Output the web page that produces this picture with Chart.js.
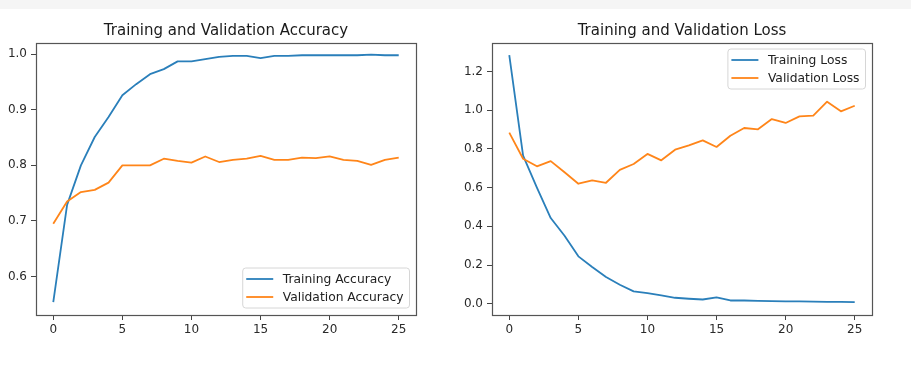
<!DOCTYPE html>
<html>
<head>
<meta charset="utf-8">
<script src="https://cdn.jsdelivr.net/npm/chart.js@4.4.1/dist/chart.umd.min.js"></script>
<style>
  html, body { margin: 0; padding: 0; background: #fff; }
  body { width: 911px; height: 367px; position: relative; overflow: hidden; }
  #band { position: absolute; left: 0; top: 0; width: 911px; height: 9px; background: #f5f5f5; }
  canvas { position: absolute; top: 0; }
  #c1 { left: 0; }
  #c2 { left: 456px; }
</style>
</head>
<body>
<div id="band"></div>
<canvas id="c1" width="455" height="367"></canvas>
<canvas id="c2" width="455" height="367"></canvas>
<script>
const epochs = [0,1,2,3,4,5,6,7,8,9,10,11,12,13,14,15,16,17,18,19,20,21,22,23,24,25];
const trainAcc = [0.554,0.729,0.800,0.851,0.887,0.926,0.946,0.964,0.973,0.987,0.987,0.991,0.995,0.997,0.997,0.993,0.997,0.997,0.998,0.998,0.998,0.998,0.998,0.999,0.998,0.998];
const valAcc   = [0.695,0.735,0.752,0.756,0.769,0.800,0.800,0.800,0.812,0.808,0.805,0.816,0.806,0.810,0.812,0.817,0.810,0.810,0.814,0.813,0.816,0.810,0.808,0.801,0.810,0.814];
const trainLoss = [1.285,0.765,0.600,0.443,0.351,0.245,0.190,0.138,0.098,0.064,0.055,0.043,0.031,0.026,0.022,0.033,0.017,0.017,0.015,0.014,0.012,0.012,0.011,0.010,0.010,0.009];
const valLoss   = [0.884,0.749,0.710,0.737,0.679,0.620,0.637,0.625,0.692,0.722,0.774,0.741,0.796,0.818,0.844,0.810,0.868,0.908,0.901,0.954,0.934,0.968,0.972,1.044,0.994,1.023];
const xTicks = [0,5,10,15,20,25];
const accTicks = [0.6,0.7,0.8,0.9,1.0];
const lossTicks = [0.0,0.2,0.4,0.6,0.8,1.0,1.2];
const accSeriesNames = ['Training Accuracy','Validation Accuracy'];
const lossSeriesNames = ['Training Loss','Validation Loss'];
const titles = ['Training and Validation Accuracy','Training and Validation Loss'];

const BLUE = '#2a7fba', ORANGE = '#ff8519';
const FONT = 'DejaVu Sans';

const frameLegendTitle = {
  id: 'frameLegendTitle',
  afterDraw(chart, args, opts) {
    const ctx = chart.ctx, a = chart.chartArea;
    ctx.save();
    // frame
    ctx.strokeStyle = '#555';
    ctx.lineWidth = 1.2;
    ctx.strokeRect(Math.round(a.left) + 0.5, Math.round(a.top) + 0.5, Math.round(a.right - a.left), Math.round(a.bottom - a.top));
    // title
    ctx.fillStyle = '#1a1a1a';
    ctx.font = '15px "' + FONT + '"';
    ctx.textAlign = 'center';
    ctx.textBaseline = 'middle';
    ctx.fillText(opts.title, (a.left + a.right) / 2, 31);
    // legend
    ctx.font = '12.3px "' + FONT + '"';
    const ds = chart.data.datasets;
    let maxW = 0;
    ds.forEach(d => { maxW = Math.max(maxW, ctx.measureText(d.label).width); });
    const w = 3.5 + 27 + 9.5 + maxW + 6;
    const h = 40;
    const right = a.right - 6.5;
    const x0 = right - w;
    const y0 = opts.pos === 'br' ? a.bottom - 7 - h : a.top + 6;
    ctx.beginPath();
    const r = 3;
    ctx.moveTo(x0 + r, y0);
    ctx.arcTo(x0 + w, y0, x0 + w, y0 + h, r);
    ctx.arcTo(x0 + w, y0 + h, x0, y0 + h, r);
    ctx.arcTo(x0, y0 + h, x0, y0, r);
    ctx.arcTo(x0, y0, x0 + w, y0, r);
    ctx.closePath();
    ctx.fillStyle = 'rgba(255,255,255,0.8)';
    ctx.fill();
    ctx.strokeStyle = '#d6d6d6';
    ctx.lineWidth = 1;
    ctx.stroke();
    ds.forEach((d, i) => {
      const cy = y0 + 11 + i * 18;
      ctx.strokeStyle = d.borderColor;
      ctx.lineWidth = 1.8;
      ctx.beginPath();
      ctx.moveTo(x0 + 3.5, cy);
      ctx.lineTo(x0 + 30.5, cy);
      ctx.stroke();
      ctx.fillStyle = '#222';
      ctx.textAlign = 'left';
      ctx.textBaseline = 'middle';
      ctx.fillText(d.label, x0 + 40, cy + 0.5);
    });
    ctx.restore();
  }
};

function makeChart(id, names, s1, s2, yMin, yMax, yTicks, title, pos) {
  const toPts = arr => epochs.map((e, i) => ({ x: e, y: arr[i] }));
  return new Chart(document.getElementById(id), {
    type: 'line',
    data: {
      datasets: [
        { label: names[0], data: toPts(s1), borderColor: BLUE, backgroundColor: BLUE, borderWidth: 1.8, pointRadius: 0, tension: 0, borderJoinStyle: 'round', order: 1 },
        { label: names[1], data: toPts(s2), borderColor: ORANGE, backgroundColor: ORANGE, borderWidth: 1.8, pointRadius: 0, tension: 0, borderJoinStyle: 'round', order: 0 }
      ]
    },
    options: {
      responsive: false,
      animation: false,
      devicePixelRatio: 1,
      layout: { padding: { top: 43, right: 39, left: 0, bottom: 0 } },
      plugins: {
        legend: { display: false },
        title: { display: false },
        tooltip: { enabled: false },
        frameLegendTitle: { title: title, pos: pos }
      },
      scales: {
        x: {
          type: 'linear',
          min: -1.25, max: 26.25,
          afterBuildTicks: s => { s.ticks = xTicks.map(v => ({ value: v })); },
          afterFit: s => { s.height = 52; },
          grid: { display: true, drawOnChartArea: false, drawTicks: true, tickLength: 5, color: '#444' },
          border: { display: false },
          ticks: { color: '#2a2a2a', font: { family: FONT, size: 12 }, padding: 3, maxRotation: 0, callback: v => String(v) }
        },
        y: {
          type: 'linear',
          min: yMin, max: yMax,
          afterBuildTicks: s => { s.ticks = yTicks.map(v => ({ value: v })); },
          afterFit: s => { s.width = 36; },
          grid: { display: true, drawOnChartArea: false, drawTicks: true, tickLength: 5, color: '#444' },
          border: { display: false },
          ticks: { color: '#2a2a2a', font: { family: FONT, size: 12 }, padding: 4, callback: v => Number(v).toFixed(1) }
        }
      }
    },
    plugins: [frameLegendTitle]
  });
}

makeChart('c1', accSeriesNames, trainAcc, valAcc, 0.531, 1.020, accTicks, titles[0], 'br');
makeChart('c2', lossSeriesNames, trainLoss, valLoss, -0.058, 1.347, lossTicks, titles[1], 'tr');
</script>
</body>
</html>
